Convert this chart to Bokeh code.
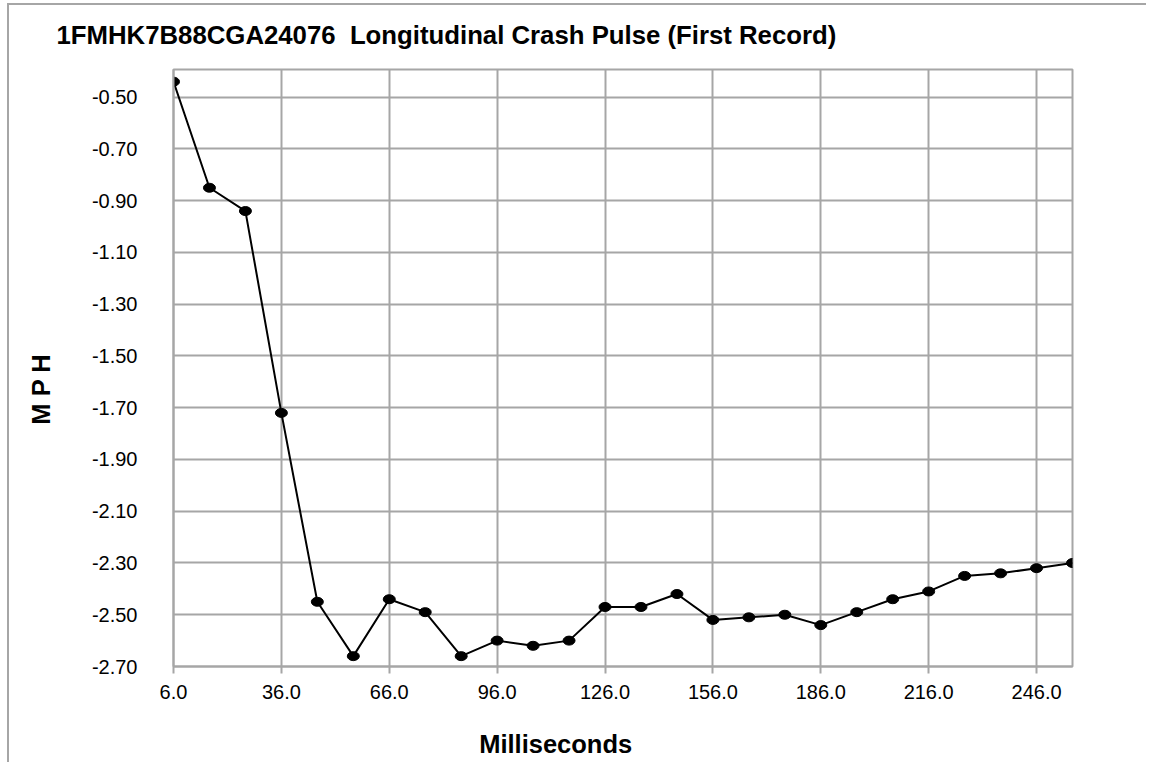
from bokeh.plotting import figure
from bokeh.models import Range1d, FixedTicker, NumeralTickFormatter, Title, ColumnDataSource, InlineStyleSheet
from bokeh.embed import file_html
from bokeh.resources import INLINE

# ---- data ----
milliseconds = [6, 16, 26, 36, 46, 56, 66, 76, 86, 96, 106, 116, 126,
                136, 146, 156, 166, 176, 186, 196, 206, 216, 226, 236, 246, 256]
mph = [-0.44, -0.85, -0.94, -1.72, -2.45, -2.66, -2.44, -2.49, -2.66, -2.60,
       -2.62, -2.60, -2.47, -2.47, -2.42, -2.52, -2.51, -2.50, -2.54, -2.49,
       -2.44, -2.41, -2.35, -2.34, -2.32, -2.30]
x_ticks = [6.0, 36.0, 66.0, 96.0, 126.0, 156.0, 186.0, 216.0, 246.0]
y_ticks = [-2.70, -2.50, -2.30, -2.10, -1.90, -1.70, -1.50, -1.30, -1.10, -0.90, -0.70, -0.50]
title_text = "1FMHK7B88CGA24076 \u00a0Longitudinal Crash Pulse (First Record)"
x_label = "Milliseconds"
y_label = "M P H"

GRID = "#a6a6a6"
FONT = "Liberation Sans"
NB = "\u00a0"

p = figure(width=1146, height=762, output_backend="svg", toolbar_location=None,
           x_range=Range1d(6, 256), y_range=Range1d(-2.70, -0.393),
           min_border_left=173, min_border_right=74, min_border_top=69, min_border_bottom=96)
p.styles = {"margin-bottom": "-8px"}
p.stylesheets = [InlineStyleSheet(css="""
:host { position: relative; }
:host::after { content: ""; position: absolute; left: 7px; top: 3px; right: 0; bottom: 0;
  border-left: 2px solid #a6a6a6; border-top: 2px solid #a6a6a6; pointer-events: none; z-index: 10; }
""")]

p.outline_line_color = GRID
p.outline_line_width = 2
p.background_fill_color = "white"
p.border_fill_color = "white"

# axes
p.xaxis.ticker = FixedTicker(ticks=x_ticks)
p.yaxis.ticker = FixedTicker(ticks=y_ticks)
p.xaxis.formatter = NumeralTickFormatter(format="0.0")
p.yaxis.formatter = NumeralTickFormatter(format="0.00")
for ax in (p.xaxis, p.yaxis):
    ax.axis_line_color = GRID
    ax.axis_line_width = 2
    ax.major_tick_line_color = GRID
    ax.major_tick_line_width = 2
    ax.minor_tick_line_color = None
    ax.major_tick_in = 0
    ax.major_label_text_font = FONT
    ax.major_label_text_font_size = "20px"
    ax.major_label_text_color = "black"
    ax.axis_label_text_font = FONT
    ax.axis_label_text_font_size = "25.5px"
    ax.axis_label_text_font_style = "bold"
    ax.axis_label_text_color = "black"
p.xaxis.major_tick_out = 7
p.xaxis.major_label_standoff = 11
p.yaxis.major_tick_out = 0
p.yaxis.major_label_standoff = 36

# axis titles (trailing no-break spaces shift the centred label like the original)
p.xaxis.axis_label = x_label + NB * 19
p.xaxis.axis_label_standoff = 28
p.yaxis.axis_label = y_label + NB * 6
p.yaxis.axis_label_standoff = 34

p.xgrid.ticker = FixedTicker(ticks=x_ticks)
p.ygrid.ticker = FixedTicker(ticks=y_ticks)
for g in (p.xgrid, p.ygrid):
    g.grid_line_color = GRID
    g.grid_line_width = 2

src = ColumnDataSource(data=dict(x=milliseconds, y=mph))
p.line("x", "y", source=src, line_color="black", line_width=2)
p.ellipse("x", "y", source=src, width=12, height=9, width_units="screen", height_units="screen",
          fill_color="black", line_color="black")

p.title = Title(text=title_text, align="left", offset=-117, standoff=38, vertical_align="top",
                text_font=FONT, text_font_size="25.75px", text_font_style="bold", text_color="black")

open("out.html", "w").write(file_html(p, INLINE))
